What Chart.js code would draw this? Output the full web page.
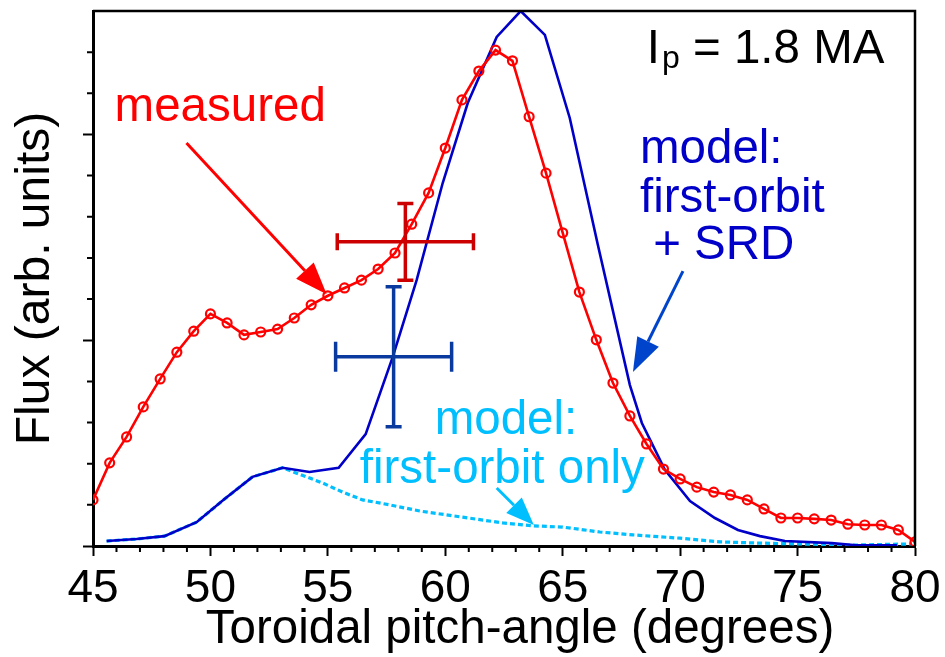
<!DOCTYPE html>
<html><head><meta charset="utf-8">
<script src="https://cdn.jsdelivr.net/npm/chart.js@4.4.1/dist/chart.umd.min.js"></script>
<style>html,body{margin:0;padding:0;background:#fff;} #wrap{width:945px;height:657px;}</style>
</head><body><div id="wrap"><canvas id="c" width="945" height="657"></canvas></div>
<script>
// ---- data ----
const measuredX = [45.00, 45.71, 46.43, 47.14, 47.86, 48.57, 49.29, 50.00, 50.71, 51.43,
  52.14, 52.86, 53.57, 54.29, 55.00, 55.71, 56.43, 57.14, 57.86, 58.57,
  59.29, 60.00, 60.71, 61.43, 62.14, 62.86, 63.57, 64.29, 65.00, 65.71,
  66.43, 67.14, 67.86, 68.57, 69.29, 70.00, 70.71, 71.43, 72.14, 72.86,
  73.57, 74.29, 75.00, 75.71, 76.43, 77.14, 77.86, 78.57, 79.29, 80.00];
const measuredY = [1.12, 2.02, 2.65, 3.38, 4.06, 4.71, 5.22, 5.64, 5.42, 5.13,
  5.20, 5.27, 5.54, 5.86, 6.08, 6.27, 6.46, 6.73, 7.12, 7.82,
  8.58, 9.67, 10.84, 11.54, 12.05, 11.79, 10.43, 9.06, 7.61, 6.17,
  5.01, 3.96, 3.16, 2.48, 1.87, 1.63, 1.43, 1.31, 1.24, 1.12,
  0.90, 0.68, 0.68, 0.66, 0.63, 0.53, 0.51, 0.51, 0.39, 0.10];
const modelX = [45.58, 46.85, 48.04, 49.41, 50.60, 51.79, 53.07, 54.22, 55.46, 56.61,
  57.76, 58.78, 59.89, 60.96, 62.19, 63.21, 64.24, 65.30, 66.50, 67.86,
  68.37, 69.35, 70.42, 71.48, 72.46, 73.40, 74.46, 76.46, 77.49, 79.23];
const modelY = [0.12, 0.17, 0.24, 0.58, 1.14, 1.68, 1.90, 1.80, 1.90, 2.72,
  4.59, 6.46, 8.82, 10.77, 12.37, 13.00, 12.42, 10.40, 7.31, 3.91,
  2.99, 1.85, 1.09, 0.68, 0.39, 0.24, 0.12, 0.07, 0.02, 0.02];
const orbitX = [45.58, 46.85, 48.04, 49.41, 50.60, 51.79, 53.07, 53.67, 54.78, 55.63,
  56.48, 57.63, 58.91, 60.74, 62.45, 63.72, 65.00, 66.58, 67.99, 69.99,
  71.70, 73.40, 75.10, 77.20, 79.87];
const orbitY = [0.12, 0.17, 0.24, 0.58, 1.14, 1.68, 1.90, 1.77, 1.53, 1.31,
  1.12, 1.00, 0.85, 0.70, 0.56, 0.49, 0.46, 0.34, 0.27, 0.19,
  0.10, 0.07, 0.05, 0.02, 0.05];
const errCenterX = [58.30, 57.80];
const errCenterY = [7.39, 4.60];
const errXHalf = [2.90, 2.47];
const errYHalf = [0.93, 1.70];
const xTickValues = [45, 50, 55, 60, 65, 70, 75, 80];
const xMinorValues = [46,47,48,49,51,52,53,54,56,57,58,59,61,62,63,64,66,67,68,69,71,72,73,74,76,77,78,79];
const yMinorValues = [1,2,3,4,6,7,8,9,11,12];
const xTitle = 'Toroidal pitch-angle (degrees)';
const yTitle = 'Flux (arb. units)';

const FONT = '"Liberation Sans", Arial, Helvetica, sans-serif';
const RED = '#ff0000', RED_DARK = '#cc0000', BLUE = '#0000c8', BLUE_BAR = '#0a3a9e', BLUE_ARROW = '#0044cc', CYAN = '#00bfff';
const TXT = 47.5;

function arrow(ctx, x1, y1, x2, y2, color, lw, headLen, headW) {
  const dx = x2 - x1, dy = y2 - y1, L = Math.hypot(dx, dy);
  const ux = dx / L, uy = dy / L;
  const bx = x2 - ux * headLen, by = y2 - uy * headLen;
  ctx.save();
  ctx.strokeStyle = color; ctx.fillStyle = color; ctx.lineWidth = lw;
  ctx.beginPath(); ctx.moveTo(x1, y1); ctx.lineTo(bx, by); ctx.stroke();
  ctx.beginPath();
  ctx.moveTo(x2, y2);
  ctx.lineTo(bx - uy * headW / 2, by + ux * headW / 2);
  ctx.lineTo(bx + uy * headW / 2, by - ux * headW / 2);
  ctx.closePath(); ctx.fill();
  ctx.restore();
}

const decor = {
  id: 'decor',
  afterDatasetsDraw(chart) {
    const ctx = chart.ctx, xs = chart.scales.x, ys = chart.scales.y;
    const colors = [RED_DARK, BLUE_BAR];
    const hCap = [17, 30];
    for (let i = 0; i < errCenterX.length; i++) {
      const cx = xs.getPixelForValue(errCenterX[i]), cy = ys.getPixelForValue(errCenterY[i]);
      const xl = xs.getPixelForValue(errCenterX[i] - errXHalf[i]), xr = xs.getPixelForValue(errCenterX[i] + errXHalf[i]);
      const yt = ys.getPixelForValue(errCenterY[i] + errYHalf[i]), yb = ys.getPixelForValue(errCenterY[i] - errYHalf[i]);
      ctx.save();
      ctx.strokeStyle = colors[i]; ctx.lineWidth = 3.5; ctx.lineCap = 'butt';
      ctx.beginPath();
      ctx.moveTo(xl, cy); ctx.lineTo(xr, cy);
      ctx.moveTo(cx, yt); ctx.lineTo(cx, yb);
      ctx.moveTo(xl, cy - hCap[i] / 2); ctx.lineTo(xl, cy + hCap[i] / 2);
      ctx.moveTo(xr, cy - hCap[i] / 2); ctx.lineTo(xr, cy + hCap[i] / 2);
      ctx.moveTo(cx - 8, yt); ctx.lineTo(cx + 8, yt);
      ctx.moveTo(cx - 8, yb); ctx.lineTo(cx + 8, yb);
      ctx.stroke();
      ctx.restore();
    }
  },
  afterDraw(chart) {
    const ctx = chart.ctx, xs = chart.scales.x, ys = chart.scales.y, a = chart.chartArea;
    const X = v => xs.getPixelForValue(v), Y = v => ys.getPixelForValue(v);
    ctx.save();
    ctx.strokeStyle = '#000'; ctx.lineWidth = 2.5;
    ctx.beginPath();
    ctx.moveTo(a.left, a.top); ctx.lineTo(a.right, a.top); ctx.lineTo(a.right, a.bottom);
    ctx.stroke();
    ctx.lineWidth = 2;
    ctx.beginPath();
    xMinorValues.forEach(v => { const p = X(v); ctx.moveTo(p, a.bottom); ctx.lineTo(p, a.bottom + 6); });
    yMinorValues.forEach(v => { const p = Y(v); ctx.moveTo(a.left, p); ctx.lineTo(a.left - 6, p); });
    ctx.stroke();

    // x-axis title (offset to the right like the original)
    ctx.fillStyle = '#000';
    ctx.font = TXT + 'px ' + FONT;
    ctx.textAlign = 'center'; ctx.textBaseline = 'alphabetic';
    ctx.fillText(xTitle, (a.left + a.right) / 2 + 16, 643);

    ctx.textAlign = 'left';
    ctx.fillStyle = RED;
    ctx.fillText('measured', X(45.92), Y(10.33));
    arrow(ctx, X(48.98), Y(9.79), X(54.95), Y(6.12), RED, 3, 32, 24);

    ctx.fillStyle = '#000';
    let x0 = X(68.58), yb = Y(11.74);
    ctx.fillText('I', x0, yb);
    let w = ctx.measureText('I').width;
    ctx.font = '32px ' + FONT;
    ctx.fillText('p', x0 + w + 2, yb + 5);
    let w2 = ctx.measureText('p').width;
    ctx.font = TXT + 'px ' + FONT;
    ctx.fillText(' = 1.8 MA', x0 + w + 2 + w2, yb);

    ctx.fillStyle = BLUE;
    ctx.fillText('model:', X(68.29), Y(9.31));
    ctx.fillText('first-orbit', X(68.29), Y(8.12));
    ctx.fillText('+ SRD', X(68.85), Y(6.97));
    arrow(ctx, X(70.12), Y(6.68), X(67.99), Y(4.23), BLUE_ARROW, 3, 34, 24);

    ctx.fillStyle = CYAN;
    ctx.fillText('model:', X(59.55), Y(2.72));
    ctx.fillText('first-orbit only', X(56.36), Y(1.53));
    arrow(ctx, X(62.19), Y(1.41), X(63.77), Y(0.51), CYAN, 3, 28, 22);
    ctx.restore();
  }
};

const pts = (xa, ya) => xa.map((x, i) => ({ x: x, y: ya[i] }));

new Chart(document.getElementById('c'), {
  type: 'line',
  data: {
    datasets: [
      { label: 'model: first-orbit only', data: pts(orbitX, orbitY), borderColor: CYAN, borderWidth: 3.2,
        borderDash: [5, 3], pointRadius: 0, fill: false, tension: 0, order: 3 },
      { label: 'model: first-orbit + SRD', data: pts(modelX, modelY), borderColor: BLUE, borderWidth: 2.6,
        pointRadius: 0, fill: false, tension: 0, order: 2 },
      { label: 'measured', data: pts(measuredX, measuredY), borderColor: RED, borderWidth: 2.6,
        pointRadius: 4.5, pointBorderWidth: 2.2, pointBorderColor: RED, pointBackgroundColor: 'rgba(255,255,255,0)',
        pointStyle: 'circle', fill: false, tension: 0, order: 1 }
    ]
  },
  options: {
    responsive: false,
    animation: false,
    events: [],
    layout: { padding: { top: 11, right: 30, left: 0, bottom: 0 } },
    plugins: { legend: { display: false }, tooltip: { enabled: false } },
    scales: {
      x: {
        type: 'linear', min: 45, max: 80,
        afterFit: s => { s.height = 111; s.paddingLeft = 0; s.paddingRight = 0; },
        afterBuildTicks: s => { s.ticks = xTickValues.map(v => ({ value: v })); },
        ticks: { color: '#000', font: { size: 46, family: FONT }, padding: 6, maxRotation: 0, autoSkip: false },
        grid: { display: true, drawOnChartArea: false, drawTicks: true, tickLength: 10, tickWidth: 2, tickColor: '#000' },
        border: { display: true, color: '#000', width: 3 },
        title: { display: false, text: xTitle }
      },
      y: {
        type: 'linear', min: 0, max: 13,
        afterFit: s => { s.width = 93; s.paddingTop = 0; s.paddingBottom = 0; },
        ticks: { display: false, stepSize: 5, includeBounds: false },
        grid: { display: true, drawOnChartArea: false, drawTicks: true, tickLength: 10, tickWidth: 2, tickColor: '#000' },
        border: { display: true, color: '#000', width: 3 },
        title: { display: true, text: yTitle, color: '#000',
          font: { size: 48, family: FONT, lineHeight: 1.2 }, padding: { top: 7, bottom: 0 } }
      }
    }
  },
  plugins: [decor]
});
</script>
</body></html>
